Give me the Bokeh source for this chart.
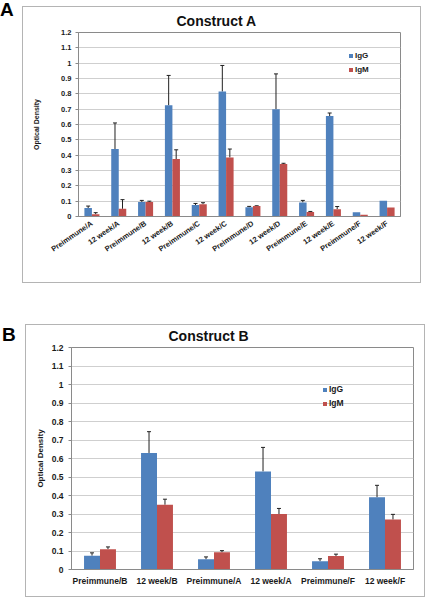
from bokeh.plotting import figure
from bokeh.models import (FactorRange, Range1d, ColumnDataSource, Whisker, TeeHead, Legend,
                          LegendItem, FixedTicker, NumeralTickFormatter, Div)
from bokeh.transform import dodge
from bokeh.layouts import column, row
from bokeh.embed import file_html
from bokeh.resources import INLINE

# ---------------- data ----------------
cats_a = ["Preimmune/A", "12 week/A", "Preimmune/B", "12 week/B", "Preimmune/C", "12 week/C",
          "Preimmune/D", "12 week/D", "Preimmune/E", "12 week/E", "Preimmune/F", "12 week/F"]
igg_a = [0.055, 0.44, 0.095, 0.725, 0.075, 0.815, 0.06, 0.70, 0.092, 0.655, 0.028, 0.102]
igg_a_err = [0.013, 0.17, 0.01, 0.195, 0.01, 0.17, 0.006, 0.23, 0.013, 0.02, 0.0, 0.0]
igm_a = [0.015, 0.05, 0.095, 0.375, 0.08, 0.385, 0.068, 0.342, 0.03, 0.048, 0.012, 0.058]
igm_a_err = [0.01, 0.06, 0.005, 0.06, 0.01, 0.055, 0.002, 0.005, 0.003, 0.017, 0.0, 0.0]

cats_b = ["Preimmune/B", "12 week/B", "Preimmune/A", "12 week/A", "Preimmune/F", "12 week/F"]
igg_b = [0.075, 0.63, 0.055, 0.53, 0.045, 0.39]
igg_b_err = [0.015, 0.115, 0.013, 0.13, 0.013, 0.065]
igm_b = [0.11, 0.35, 0.093, 0.30, 0.073, 0.27]
igm_b_err = [0.012, 0.03, 0.009, 0.03, 0.01, 0.028]

y_ticks = [0, 0.1, 0.2, 0.3, 0.4, 0.5, 0.6, 0.7, 0.8, 0.9, 1.0, 1.1, 1.2]
series_names = ["IgG", "IgM"]
titles = ["Construct A", "Construct B"]
panel_letters = ["A", "B"]

BLUE = "#4F81BD"
RED = "#C0504D"
FONT = "Liberation Sans"


def make_panel(cats, g, g_err, m, m_err, cfg):
    p = figure(x_range=FactorRange(*cats, range_padding=0), y_range=Range1d(0, 1.2),
               frame_width=cfg["fw"], frame_height=cfg["fh"],
               min_border_left=cfg["bl"], min_border_right=cfg["br"],
               min_border_top=cfg["bt"], min_border_bottom=cfg["bb"],
               output_backend="svg", toolbar_location=None, title=cfg["title_text"],
               background_fill_color="white", border_fill_color="white",
               margin=cfg["margin"],
               styles={"outline": "1px solid #b4b4b4", "outline-offset": "0px"})
    p.title.text_font = FONT
    p.title.text_font_style = "bold"
    p.title.text_font_size = "14px"
    p.title.text_color = "#111111"
    p.title.align = "left"
    p.title.vertical_align = "top"
    p.title.offset = cfg["toff"]
    p.title.standoff = 3

    src = ColumnDataSource(dict(cat=cats, g=g, m=m))
    rg = p.vbar(x=dodge("cat", -0.14, range=p.x_range), top="g", width=0.28, source=src,
                fill_color=BLUE, line_color=None)
    rm = p.vbar(x=dodge("cat", 0.14, range=p.x_range), top="m", width=0.28, source=src,
                fill_color=RED, line_color=None)

    for vals, errs, off in ((g, g_err, -0.14), (m, m_err, 0.14)):
        keep = [i for i, e in enumerate(errs) if e > 0]
        es = ColumnDataSource(dict(cat=[cats[i] for i in keep],
                                   lo=[vals[i] for i in keep],
                                   hi=[vals[i] + errs[i] for i in keep]))
        w = Whisker(source=es, base=dodge("cat", off, range=p.x_range), lower="lo", upper="hi",
                    lower_head=None,
                    upper_head=TeeHead(size=4, line_color="#202020", line_width=1),
                    line_color="#202020", line_width=1)
        p.add_layout(w)

    p.xgrid.grid_line_color = None
    p.ygrid.grid_line_color = "#cfcfcf"
    p.ygrid.ticker = FixedTicker(ticks=y_ticks)
    p.outline_line_color = "#8a8a8a"
    p.outline_line_width = 1

    p.yaxis.ticker = FixedTicker(ticks=y_ticks)
    p.yaxis.formatter = NumeralTickFormatter(format="0.[0]")
    p.yaxis.minor_tick_line_color = None
    p.yaxis.major_tick_out = 3
    p.yaxis.major_tick_in = 0
    p.yaxis.major_label_standoff = cfg["ystand"]
    p.yaxis.axis_line_color = "#8a8a8a"
    p.yaxis.major_tick_line_color = "#8a8a8a"
    p.yaxis.major_label_text_font = FONT
    p.yaxis.major_label_text_font_style = "bold"
    p.yaxis.major_label_text_font_size = cfg["yfs"]
    p.yaxis.major_label_text_color = "#1a1a1a"
    p.yaxis.axis_label = "Optical Density"
    p.yaxis.axis_label_text_font = FONT
    p.yaxis.axis_label_text_font_style = "bold"
    p.yaxis.axis_label_text_font_size = cfg["alfs"]
    p.yaxis.axis_label_text_color = "#1a1a1a"
    p.yaxis.axis_label_standoff = cfg["alstand"]

    p.xaxis.axis_line_color = "#8a8a8a"
    p.xaxis.major_tick_line_color = None
    p.xaxis.major_tick_out = 0
    p.xaxis.major_tick_in = 0
    p.xaxis.major_label_text_font = FONT
    p.xaxis.major_label_text_font_style = "bold"
    p.xaxis.major_label_text_font_size = cfg["xfs"]
    p.xaxis.major_label_text_color = "#1a1a1a"
    p.xaxis.major_label_standoff = cfg["xstand"]
    if cfg["rot"]:
        p.xaxis.major_label_orientation = cfg["rot"]

    legend = Legend(items=[LegendItem(label=series_names[0], renderers=[rg]),
                           LegendItem(label=series_names[1], renderers=[rm])],
                    location=cfg["legloc"], padding=0, spacing=0, margin=0,
                    glyph_width=5, glyph_height=5, label_standoff=2, label_height=14,
                    label_text_font=FONT, label_text_font_style="bold",
                    label_text_font_size=cfg["legfs"], label_text_color="#1a1a1a",
                    border_line_color=None, background_fill_alpha=0)
    p.add_layout(legend)
    return p


def letter_div(text, width, margin_top, pad_left):
    return Div(text=text, width=width, height=24, margin=(margin_top, 0, 0, 0),
               styles={"font-family": FONT, "font-weight": "bold", "font-size": "19px",
                       "line-height": "1", "color": "#000000", "padding-left": f"{pad_left}px"})


# page coordinates: box A lines x 22/420, y 6/282 ; box B lines x 25/424, y 324/596
cfg_a = dict(fw=322, fh=184, bl=55, br=20, bt=25, bb=66, margin=(7, 0, 0, 0),
             ystand=4, yfs="7.5px", alfs="7px", alstand=18, xfs="7.5px", xstand=6, rot=0.6,
             legloc=(270, 140), legfs="8px", title_text=titles[0], toff=98)
cfg_b = dict(fw=342, fh=222, bl=45, br=11, bt=22, bb=27, margin=(43, 0, 0, 0),
             ystand=5, yfs="8.5px", alfs="8px", alstand=4, xfs="8.5px", xstand=6, rot=None,
             legloc=(251, 159), legfs="8.5px", title_text=titles[1], toff=97)

pa = make_panel(cats_a, igg_a, igg_a_err, igm_a, igm_a_err, cfg_a)
pb = make_panel(cats_b, igg_b, igg_b_err, igm_b, igm_b_err, cfg_b)

da = letter_div(panel_letters[0], 23, 0, 0)
db = letter_div(panel_letters[1], 26, 43, 2)

layout = column(row(da, pa, spacing=0), row(db, pb, spacing=0), spacing=0)

open("out.html", "w").write(file_html(layout, INLINE))
